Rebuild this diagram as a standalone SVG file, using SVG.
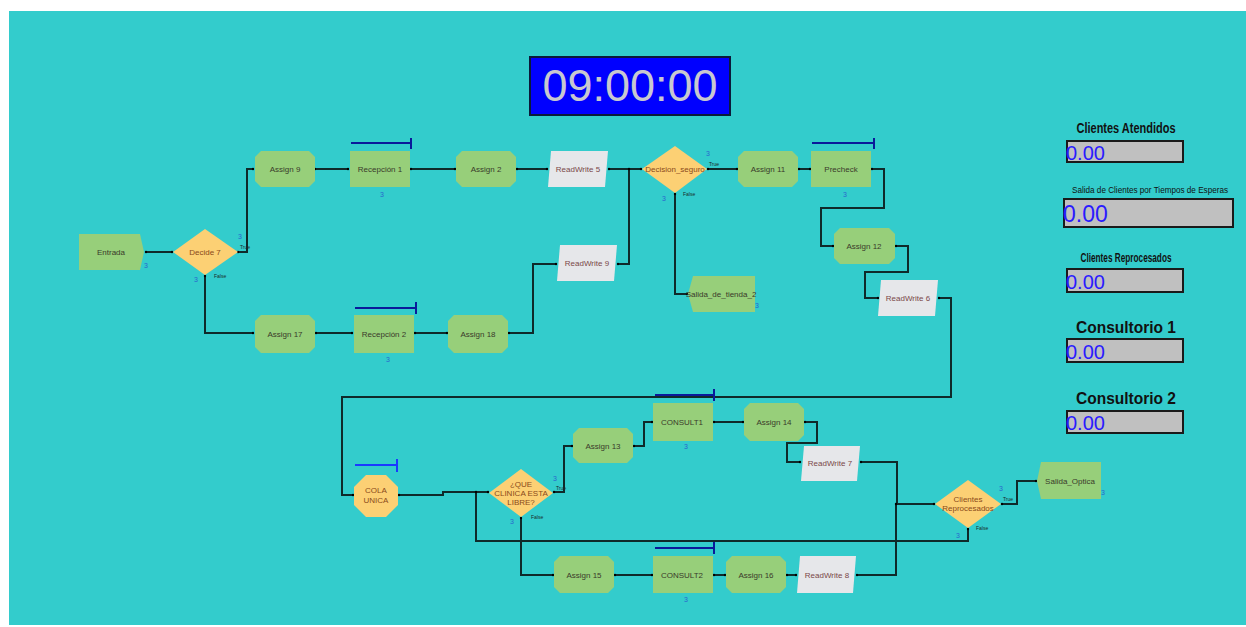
<svg xmlns="http://www.w3.org/2000/svg" width="1246" height="627" viewBox="0 0 1246 627">
<defs>
<marker id="dot" markerWidth="4" markerHeight="4" refX="2" refY="2" markerUnits="userSpaceOnUse"><circle cx="2" cy="2" r="1.2" fill="#000"/></marker>
<style>
.bg{fill:#33cccc}
.asg{fill:#97cf7a}
.proc{fill:#97cf7a}
.rw{fill:#e6e7ea}
.dec{fill:#fcd074}
.t{font-family:"Liberation Sans",Arial,sans-serif;font-size:8px;text-anchor:middle;dominant-baseline:central}
.tg{fill:#3a3a2a}
.tr{fill:#7a4848}
.to{fill:#8a4a1a}
.n3{font-family:"Liberation Sans",Arial,sans-serif;font-size:7px;fill:#2a66cc}
.tf{font-family:"Liberation Sans",Arial,sans-serif;font-size:5px;fill:#1a2a2a}
.c path{fill:none;stroke:#0f2a2a;stroke-width:2;marker-start:url(#dot);marker-end:url(#dot)}
.q{fill:none;stroke:#0a1a9a;stroke-width:2}
.box{fill:#c0c0c0;stroke:#1a1a1a;stroke-width:2}
.val{font-family:"Liberation Sans",Arial,sans-serif;fill:#2a1aff}
.lbl{font-family:"Liberation Sans",Arial,sans-serif;font-weight:bold;fill:#111;text-anchor:middle}
.sml{font-family:"Liberation Sans",Arial,sans-serif;font-weight:normal;fill:#111;text-anchor:middle}
</style>
</defs>
<rect class="bg" x="9" y="11" width="1237" height="614"/>

<g id="timer">
<rect x="530" y="57" width="200" height="58" fill="#0000ff" stroke="#0a1a3a" stroke-width="2"/>
<text x="630" y="101" font-family="Liberation Sans,Arial,sans-serif" font-size="45" fill="#c8c8d0" text-anchor="middle">09:00:00</text>
</g>

<g class="c" id="connectors">
<path d="M146,252 H172"/>
<path d="M238,252 H247 V169 H253"/>
<path d="M315,169 H348"/>
<path d="M411,169 H455"/>
<path d="M517,169 H547"/>
<path d="M609,169 H641"/>
<path d="M618,264 H629 V169"/>
<path d="M205,276 V333 H253"/>
<path d="M316,333 H352"/>
<path d="M415,333 H447"/>
<path d="M509,333 H533 V264 H556"/>
<path d="M708,169 H737"/>
<path d="M799,169 H810"/>
<path d="M872,169 H884 V208 H821 V246 H833"/>
<path d="M675,194 V294 H687"/>
<path d="M896,246 H908 V272 H865 V298 H878"/>
<path d="M939,298 H951 V397 H342 V495 H353"/>
<path d="M399,495 H443 V492 H488"/>
<path d="M968,529 V541 H476 V492"/>
<path d="M554,492 H564 V446 H572"/>
<path d="M634,446 H644 V422 H652"/>
<path d="M714,422 H743"/>
<path d="M805,422 H817 V443 H787 V462 H800"/>
<path d="M861,462 H897 V504 H934"/>
<path d="M857,575 H896 V504"/>
<path d="M521,518 V575 H553"/>
<path d="M615,575 H652"/>
<path d="M714,575 H725"/>
<path d="M787,575 H796"/>
<path d="M1002,504 H1017 V481 H1036"/>
</g>

<g id="queues">
<path class="q" d="M351,143 H411 M411,138 V149"/>
<path class="q" d="M355,308 H416 M416,302 V314"/>
<path class="q" d="M812,143 H874 M874,138 V149"/>
<path class="q" d="M655,395 H714 M714,389 V401"/>
<path class="q" d="M655,548 H714 M714,542 V554"/>
<path d="M355,465 H397 M397,459 V472" fill="none" stroke="#1a3aff" stroke-width="2"/>
</g>

<g id="entrada">
<polygon class="proc" points="79,234 140,234 144,252 140,270 79,270"/>
<text class="t tg" x="111" y="252">Entrada</text>
<text class="n3" x="144" y="268">3</text>
</g>
<g id="decide7">
<polygon class="dec" points="205,229 238,252 205,275 173,252"/>
<text class="t to" x="205" y="252">Decide 7</text>
<text class="n3" x="238" y="239">3</text>
<text class="n3" x="194" y="282">3</text>
<text class="tf" x="240" y="249">True</text>
<text class="tf" x="214" y="278">False</text>
</g>
<g id="assign9">
<polygon class="asg" points="261,151 309,151 315,157 315,181 309,187 261,187 255,181 255,157"/>
<text class="t tg" x="285" y="169">Assign 9</text>
</g>
<g id="recepcion1">
<rect class="proc" x="350" y="151" width="60" height="36"/>
<text class="t tg" x="380" y="169">Recepción 1</text>
<text class="n3" x="380" y="197">3</text>
</g>
<g id="assign2">
<polygon class="asg" points="462,151 510,151 516,157 516,181 510,187 462,187 456,181 456,157"/>
<text class="t tg" x="486" y="169">Assign 2</text>
</g>
<g id="readwrite5">
<polygon class="rw" points="551,151 608,151 605,187 548,187"/>
<text class="t tr" x="578" y="169">ReadWrite 5</text>
</g>
<g id="readwrite9">
<polygon class="rw" points="560,245 617,245 614,281 557,281"/>
<text class="t tr" x="587" y="263">ReadWrite 9</text>
</g>
<g id="assign17">
<polygon class="asg" points="261,315 309,315 315,321 315,347 309,353 261,353 255,347 255,321"/>
<text class="t tg" x="285" y="334">Assign 17</text>
</g>
<g id="recepcion2">
<rect class="proc" x="354" y="315" width="60" height="38"/>
<text class="t tg" x="384" y="334">Recepción 2</text>
<text class="n3" x="386" y="362">3</text>
</g>
<g id="assign18">
<polygon class="asg" points="454,315 502,315 508,321 508,347 502,353 454,353 448,347 448,321"/>
<text class="t tg" x="478" y="334">Assign 18</text>
</g>
<g id="decision_seguro">
<polygon class="dec" points="675,146 707,169 675,193 642,169"/>
<text class="t to" x="675" y="169">Decision_seguro</text>
<text class="n3" x="706" y="156">3</text>
<text class="n3" x="662" y="201">3</text>
<text class="tf" x="709" y="166">True</text>
<text class="tf" x="683" y="196">False</text>
</g>
<g id="assign11">
<polygon class="asg" points="744,151 792,151 798,157 798,181 792,187 744,187 738,181 738,157"/>
<text class="t tg" x="768" y="169">Assign 11</text>
</g>
<g id="precheck">
<rect class="proc" x="811" y="151" width="60" height="36"/>
<text class="t tg" x="841" y="169">Precheck</text>
<text class="n3" x="843" y="197">3</text>
</g>
<g id="assign12">
<polygon class="asg" points="840,228 889,228 895,234 895,258 889,264 840,264 834,258 834,234"/>
<text class="t tg" x="864" y="246">Assign 12</text>
</g>
<g id="readwrite6">
<polygon class="rw" points="881,280 938,280 935,316 878,316"/>
<text class="t tr" x="908" y="298">ReadWrite 6</text>
</g>
<g id="salida_tienda2">
<polygon class="proc" points="693,276 755,276 755,312 693,312 688,294"/>
<text class="t tg" x="721" y="294">Salida_de_tienda_2</text>
<text class="n3" x="755" y="308">3</text>
</g>
<g id="cola_unica">
<polygon class="dec" points="366,475 386,475 398,487 398,505 386,517 366,517 354,505 354,487"/>
<text class="t to" x="376" y="490">COLA</text>
<text class="t to" x="376" y="500">UNICA</text>
</g>
<g id="que_clinica">
<polygon class="dec" points="521,469 553,493 521,517 489,493"/>
<text class="t to" x="521" y="484">¿QUE</text>
<text class="t to" x="521" y="493">CLINICA ESTA</text>
<text class="t to" x="521" y="502">LIBRE?</text>
<text class="n3" x="553" y="481">3</text>
<text class="n3" x="510" y="524">3</text>
<text class="tf" x="556" y="490">True</text>
<text class="tf" x="531" y="519">False</text>
</g>
<g id="assign13">
<polygon class="asg" points="579,428 627,428 633,434 633,457 627,463 579,463 573,457 573,434"/>
<text class="t tg" x="603" y="446">Assign 13</text>
</g>
<g id="consult1">
<rect class="proc" x="653" y="403" width="60" height="38"/>
<text class="t tg" x="682" y="422">CONSULT1</text>
<text class="n3" x="684" y="449">3</text>
</g>
<g id="assign14">
<polygon class="asg" points="750,403 798,403 804,409 804,435 798,441 750,441 744,435 744,409"/>
<text class="t tg" x="774" y="422">Assign 14</text>
</g>
<g id="readwrite7">
<polygon class="rw" points="804,446 860,446 857,481 801,481"/>
<text class="t tr" x="830" y="463">ReadWrite 7</text>
</g>
<g id="assign15">
<polygon class="asg" points="560,556 608,556 614,562 614,587 608,593 560,593 554,587 554,562"/>
<text class="t tg" x="584" y="575">Assign 15</text>
</g>
<g id="consult2">
<rect class="proc" x="653" y="556" width="60" height="37"/>
<text class="t tg" x="682" y="575">CONSULT2</text>
<text class="n3" x="684" y="602">3</text>
</g>
<g id="assign16">
<polygon class="asg" points="732,556 780,556 786,562 786,587 780,593 732,593 726,587 726,562"/>
<text class="t tg" x="756" y="575">Assign 16</text>
</g>
<g id="readwrite8">
<polygon class="rw" points="800,556 856,556 853,593 797,593"/>
<text class="t tr" x="827" y="575">ReadWrite 8</text>
</g>
<g id="clientes_reprocesados">
<polygon class="dec" points="968,480 1001,504 968,528 935,504"/>
<text class="t to" x="968" y="499">Clientes</text>
<text class="t to" x="968" y="508">Reprocesados</text>
<text class="n3" x="999" y="491">3</text>
<text class="n3" x="956" y="538">3</text>
<text class="tf" x="1003" y="501">True</text>
<text class="tf" x="976" y="530">False</text>
</g>
<g id="salida_optica">
<polygon class="proc" points="1041,462 1101,462 1101,499 1041,499 1037,481"/>
<text class="t tg" x="1070" y="481">Salida_Optica</text>
<text class="n3" x="1101" y="495">3</text>
</g>

<g id="stats">
<text class="lbl" x="1126" y="133" font-size="14" textLength="99" lengthAdjust="spacingAndGlyphs">Clientes Atendidos</text>
<rect class="box" x="1067" y="141" width="116" height="21"/>
<text class="val" x="1066" y="160" font-size="20">0.00</text>
<text class="sml" x="1150" y="193" font-size="9" textLength="156" lengthAdjust="spacingAndGlyphs">Salida de Clientes por Tiempos de Esperas</text>
<rect class="box" x="1064" y="199" width="169" height="28"/>
<text class="val" x="1063" y="222" font-size="23">0.00</text>
<text class="lbl" x="1126" y="262" font-size="13" textLength="91" lengthAdjust="spacingAndGlyphs">Clientes Reprocesados</text>
<rect class="box" x="1067" y="269" width="116" height="23"/>
<text class="val" x="1066" y="289" font-size="20">0.00</text>
<text class="lbl" x="1126" y="333" font-size="17" textLength="100" lengthAdjust="spacingAndGlyphs">Consultorio 1</text>
<rect class="box" x="1067" y="339" width="116" height="23"/>
<text class="val" x="1066" y="359" font-size="20">0.00</text>
<text class="lbl" x="1126" y="404" font-size="17" textLength="100" lengthAdjust="spacingAndGlyphs">Consultorio 2</text>
<rect class="box" x="1067" y="411" width="116" height="22"/>
<text class="val" x="1066" y="430" font-size="20">0.00</text>
</g>
</svg>
